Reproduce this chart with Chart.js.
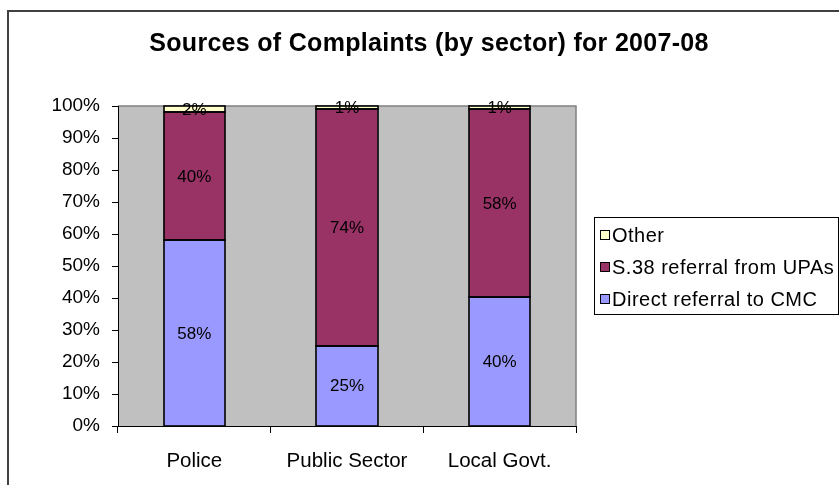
<!DOCTYPE html>
<html>
<head>
<meta charset="utf-8">
<title>Sources of Complaints (by sector) for 2007-08</title>
<script src="https://cdn.jsdelivr.net/npm/chart.js@4.4.1/dist/chart.umd.min.js"></script>
<style>
  html, body { margin: 0; padding: 0; background: #fff; }
  #wrap { width: 839px; height: 485px; }
</style>
</head>
<body>
<div id="wrap"><canvas id="chart" width="839" height="485"></canvas></div>
<script>
// sectors and the share of complaints from each source (percent)
const categories = ['Police', 'Public Sector', 'Local Govt.'];
const directReferral = [58, 25, 40];
const s38Referral = [40, 74, 58];
const otherSource = [2, 1, 1];
const seriesNames = ['Direct referral to CMC', 'S.38 referral from UPAs', 'Other'];

const FONT = '"Liberation Sans", Arial, sans-serif';

// 100% stacked: scale each column by its own total
const totals = categories.map((_, i) => directReferral[i] + s38Referral[i] + otherSource[i]);
const toShare = (arr) => arr.map((v, i) => v / totals[i] * 100);

const excelLook = {
    id: 'excelLook',
    beforeDraw(chart) {
        const { ctx, chartArea: a } = chart;
        ctx.save();
        ctx.fillStyle = '#fff';
        ctx.fillRect(0, 0, chart.width, chart.height);
        // outer chart frame
        ctx.strokeStyle = '#404040';
        ctx.lineWidth = 2;
        ctx.strokeRect(8, 11, chart.width + 20, chart.height + 20);
        // plot area
        ctx.fillStyle = '#c0c0c0';
        ctx.fillRect(a.left, a.top, a.right - a.left, a.bottom - a.top);
        ctx.strokeStyle = '#808080';
        ctx.lineWidth = 1.5;
        ctx.beginPath();
        ctx.moveTo(a.left, a.top);
        ctx.lineTo(a.right, a.top);
        ctx.lineTo(a.right, a.bottom);
        ctx.stroke();
        ctx.restore();
    },
    afterDatasetsDraw(chart) {
        // one shared outline per segment, so stacked edges stay a single line
        const { ctx } = chart;
        ctx.save();
        ctx.strokeStyle = '#000';
        ctx.lineWidth = 1.6;
        chart.data.datasets.forEach((ds, di) => {
            chart.getDatasetMeta(di).data.forEach((bar) => {
                const { x, y, base, width } = bar.getProps(['x', 'y', 'base', 'width'], true);
                const left = Math.round(x - width / 2);
                const right = Math.round(x + width / 2);
                ctx.strokeRect(left, Math.round(y), right - left, Math.round(base) - Math.round(y));
            });
        });
        ctx.restore();
    },
    afterDraw(chart) {
        const { ctx } = chart;
        ctx.save();

        // title
        ctx.fillStyle = '#000';
        ctx.font = 'bold 25px ' + FONT;
        ctx.letterSpacing = '0.3px';
        ctx.textAlign = 'center';
        ctx.textBaseline = 'middle';
        ctx.fillText('Sources of Complaints (by sector) for 2007-08', 429, 44);
        ctx.letterSpacing = '0px';

        // value labels in the middle of each segment
        ctx.font = '17px ' + FONT;
        chart.data.datasets.forEach((ds, di) => {
            chart.getDatasetMeta(di).data.forEach((bar, i) => {
                const y = (bar.y + bar.base) / 2;
                ctx.fillText(ds.raw[i] + '%', bar.x, y + 1);
            });
        });

        // legend, top series first
        const box = { x: 594.5, y: 217.5, w: 244, h: 97 };
        ctx.strokeStyle = '#000';
        ctx.lineWidth = 1;
        ctx.strokeRect(box.x, box.y, box.w, box.h);
        ctx.font = '20px ' + FONT;
        ctx.letterSpacing = '0.5px';
        ctx.textAlign = 'left';
        const items = chart.data.datasets.slice().reverse();
        items.forEach((ds, k) => {
            const cy = 235 + k * 32;
            ctx.fillStyle = ds.backgroundColor;
            ctx.fillRect(600.5, cy - 4.5, 9, 9);
            ctx.strokeRect(600.5, cy - 4.5, 9, 9);
            ctx.fillStyle = '#000';
            ctx.fillText(ds.label, 612, cy + 1);
        });
        ctx.restore();
    }
};

new Chart(document.getElementById('chart'), {
    type: 'bar',
    data: {
        labels: categories,
        datasets: [
            { label: seriesNames[0], data: toShare(directReferral), raw: directReferral, backgroundColor: '#9999ff' },
            { label: seriesNames[1], data: toShare(s38Referral), raw: s38Referral, backgroundColor: '#993366' },
            { label: seriesNames[2], data: toShare(otherSource), raw: otherSource, backgroundColor: '#ffffcc' }
        ]
    },
    options: {
        responsive: false,
        animation: false,
        layout: { padding: { top: 106, right: 263, bottom: 0, left: 0 } },
        datasets: {
            bar: {
                borderWidth: 0,
                barPercentage: 0.4,
                categoryPercentage: 1
            }
        },
        plugins: {
            legend: { display: false },
            title: { display: false },
            tooltip: { enabled: false }
        },
        scales: {
            x: {
                stacked: true,
                afterFit: (scale) => { scale.height = 59; },
                grid: { offset: true, drawOnChartArea: false, color: '#000', tickLength: 7 },
                border: { color: '#000', width: 1 },
                ticks: { color: '#000', padding: 16, font: { family: FONT, size: 20.5 } }
            },
            y: {
                stacked: true,
                min: 0,
                max: 100,
                afterFit: (scale) => { scale.width = 118; },
                grid: { drawOnChartArea: false, color: '#000', tickLength: 6 },
                border: { color: '#000', width: 1 },
                ticks: {
                    stepSize: 10,
                    color: '#000',
                    padding: 12,
                    font: { family: FONT, size: 19 },
                    callback: (v) => v + '%'
                }
            }
        }
    },
    plugins: [excelLook]
});
</script>
</body>
</html>
